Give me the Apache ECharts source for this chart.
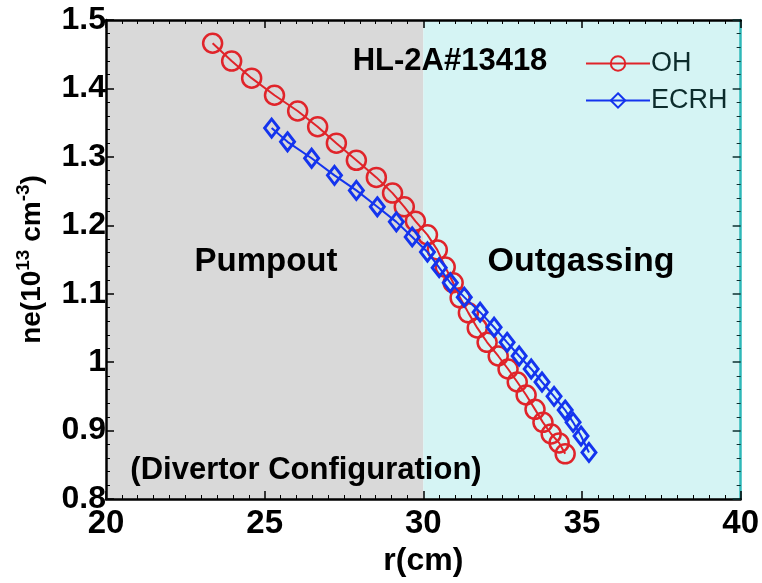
<!DOCTYPE html>
<html>
<head>
<meta charset="utf-8">
<script src="https://cdn.jsdelivr.net/npm/echarts@6/dist/echarts.min.js"></script>
<style>html,body{margin:0;padding:0;background:#fff;}#c{width:762px;height:583px;}</style>
</head>
<body>
<div id="c"></div>
<script>
// Data
const ohR  = [23.36,23.96,24.59,25.31,26.04,26.67,27.26,27.89,28.52,29.03,29.40,29.75,30.13,30.44,30.69,30.94,31.16,31.42,31.70,32.01,32.36,32.67,32.96,33.24,33.52,33.77,34.03,34.28,34.47];
const ohNe = [1.466,1.440,1.415,1.390,1.367,1.344,1.320,1.295,1.270,1.247,1.227,1.206,1.186,1.164,1.139,1.116,1.094,1.072,1.050,1.029,1.009,0.990,0.971,0.952,0.931,0.912,0.895,0.882,0.866];
const ecR  = [25.22,25.72,26.48,27.20,27.89,28.55,29.15,29.65,30.13,30.50,30.85,31.29,31.79,32.23,32.64,33.02,33.40,33.74,34.12,34.47,34.72,34.97,35.22];
const ecNe = [1.342,1.322,1.298,1.273,1.251,1.227,1.205,1.183,1.161,1.138,1.116,1.095,1.073,1.051,1.029,1.009,0.990,0.971,0.950,0.930,0.912,0.892,0.868];
const regions = [[20,30],[30,40]];
const xMin = 20, xMax = 40, xStep = 5;
const yMin = 0.8, yMax = 1.5, yStep = 0.1;

const RED = '#e0242a', BLUE = '#1434ee';
const FONT = '"Liberation Sans", Arial, sans-serif';
const zip = (a, b) => a.map((v, i) => [v, b[i]]);

const chart = echarts.init(document.getElementById('c'), null, {renderer: 'canvas'});
function ticks(split, color) {
  return {
    z: 20,
    axisTick: {show: true, inside: true, length: 8, lineStyle: {color: color, width: 1.5}},
    minorTick: {show: true, splitNumber: split, length: 4, lineStyle: {color: color, width: 1}},
    splitLine: {show: false}, minorSplitLine: {show: false}
  };
}
chart.setOption({
  animation: false,
  grid: {left: 106, top: 20, right: 20, bottom: 84, containLabel: false},
  xAxis: [
    Object.assign({
      type: 'value', min: xMin, max: xMax, interval: xStep, position: 'bottom',
      axisLine: {show: true, onZero: false, lineStyle: {color: '#000', width: 2.5}},
      axisLabel: {fontFamily: FONT, fontWeight: 'bold', fontSize: 33, color: '#000', margin: 8},
      name: 'r(cm)', nameLocation: 'middle', nameGap: 46,
      nameTextStyle: {fontFamily: FONT, fontWeight: 'bold', fontSize: 32, color: '#000'}
    }, ticks(10, '#000')),
    Object.assign({
      type: 'value', min: xMin, max: xMax, interval: xStep, position: 'top',
      axisLine: {show: true, onZero: false, lineStyle: {color: '#000', width: 2.5}},
      axisLabel: {show: false}
    }, ticks(10, '#000'))
  ],
  yAxis: [
    Object.assign({
      type: 'value', min: yMin, max: yMax, interval: yStep, position: 'left',
      axisLine: {show: true, onZero: false, lineStyle: {color: '#000', width: 2.5}},
      axisLabel: {fontFamily: FONT, fontWeight: 'bold', fontSize: 32, color: '#000', margin: 0, padding: [7, 0, 0, 0]},
      name: '{a|ne(10}{s|13}{a| cm}{s|-3}{a|)}', nameLocation: 'middle', nameGap: 60, nameRotate: 90,
      nameTextStyle: {
        rich: {
          a: {fontFamily: FONT, fontWeight: 'bold', fontSize: 28, color: '#000', lineHeight: 32, verticalAlign: 'bottom'},
          s: {fontFamily: FONT, fontWeight: 'bold', fontSize: 19, color: '#000', lineHeight: 19, verticalAlign: 'top'}
        }
      }
    }, ticks(5, '#000')),
    Object.assign({
      type: 'value', min: yMin, max: yMax, interval: yStep, position: 'right',
      axisLine: {show: true, onZero: false, lineStyle: {color: '#2fb8b8', width: 2.5}},
      axisLabel: {show: false}
    }, ticks(5, '#0d3030'))
  ],
  legend: {
    data: ['OH', 'ECRH'], orient: 'vertical', left: 580, top: 45,
    itemWidth: 64, itemHeight: 18, itemGap: 10,
    textStyle: {fontFamily: FONT, fontSize: 27, color: '#0c2c2c', padding: [0, 0, 0, -4]}
  },
  graphic: [
    {type: 'text', x: 450, y: 61, style: {text: 'HL-2A#13418', font: 'bold 31px ' + FONT, fill: '#000', textAlign: 'center', textVerticalAlign: 'middle'}, z: 100},
    {type: 'text', x: 266, y: 262, style: {text: 'Pumpout', font: 'bold 33px ' + FONT, fill: '#000', textAlign: 'center', textVerticalAlign: 'middle'}, z: 100},
    {type: 'text', x: 581, y: 262, style: {text: 'Outgassing', font: 'bold 34px ' + FONT, fill: '#000', textAlign: 'center', textVerticalAlign: 'middle'}, z: 100},
    {type: 'text', x: 306, y: 470, style: {text: '(Divertor Configuration)', font: 'bold 31px ' + FONT, fill: '#000', textAlign: 'center', textVerticalAlign: 'middle'}, z: 100}
  ],
  series: [
    {
      name: 'bg', type: 'line', data: [], silent: true, z: 0,
      markArea: {
        silent: true,
        data: [
          [{xAxis: regions[0][0], itemStyle: {color: '#d9d9d9'}}, {xAxis: regions[0][1]}],
          [{xAxis: regions[1][0], itemStyle: {color: '#d5f4f4'}}, {xAxis: regions[1][1]}]
        ]
      }
    },
    {
      name: 'OH', type: 'line', data: zip(ohR, ohNe), z: 5,
      symbol: 'circle', symbolSize: 19, showAllSymbol: true,
      lineStyle: {color: RED, width: 2},
      itemStyle: {color: 'rgba(0,0,0,0)', borderColor: RED, borderWidth: 2.5}
    },
    {
      name: 'ECRH', type: 'line', data: zip(ecR, ecNe), z: 6,
      symbol: 'diamond', symbolSize: [14, 18], showAllSymbol: true,
      lineStyle: {color: BLUE, width: 2},
      itemStyle: {color: 'rgba(0,0,0,0)', borderColor: BLUE, borderWidth: 3}
    }
  ]
});
</script>
</body>
</html>
